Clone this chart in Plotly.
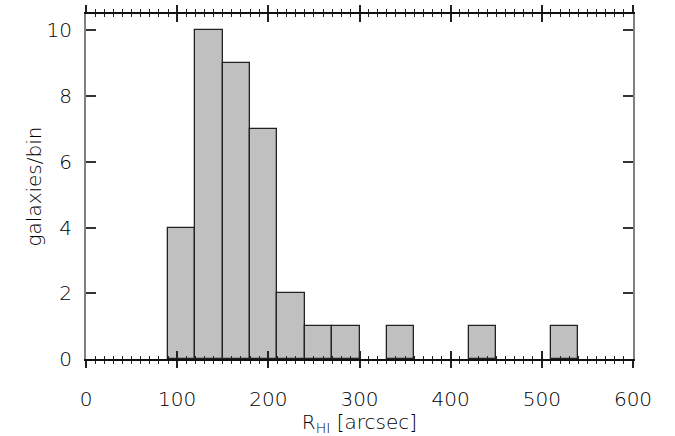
import plotly.graph_objects as go

# Data
bin_left = [90, 120, 150, 180, 210, 240, 270, 330, 420, 510]
counts = [4, 10, 9, 7, 2, 1, 1, 1, 1, 1]
bin_width = 30
x_ticks = [0, 100, 200, 300, 400, 500, 600]
y_ticks = [0, 2, 4, 6, 8, 10]

centers = [b + bin_width / 2 for b in bin_left]

FONT = "DejaVu Sans"

fig = go.Figure()
fig.add_trace(go.Bar(
    x=centers, y=counts, width=bin_width,
    marker=dict(color="#c0c0c0", line=dict(color="#222222", width=1.3)),
    xaxis="x", yaxis="y", showlegend=False, hoverinfo="skip",
))
# invisible trace for overlay axis (inward ticks)
fig.add_trace(go.Scatter(x=[0, 600], y=[0, 0], mode="markers",
                         marker=dict(opacity=0), xaxis="x2", yaxis="y",
                         showlegend=False, hoverinfo="skip"))

fig.update_layout(
    width=675, height=436,
    margin=dict(l=86, r=42, t=14, b=77),
    paper_bgcolor="white", plot_bgcolor="white",
    font=dict(family=FONT, size=20, color="#000000", weight=200),
    bargap=0,
    xaxis=dict(
        range=[0, 600], tickvals=x_ticks, ticks="outside", ticklen=7,
        tickwidth=1.5, tickcolor="#222222", automargin=False,
        minor=dict(dtick=10, tick0=0, ticks="outside", ticklen=3,
                   tickwidth=1.2, tickcolor="#222222"),
        showline=True, linecolor="#111111", linewidth=2, mirror="allticks",
        showgrid=False, zeroline=False,
        ticklabelstandoff=14,
        tickfont=dict(color="#000000", size=20, weight=200),
        title=dict(text="R<sub>HI</sub> [arcsec]", standoff=4,
                   font=dict(size=20, weight=200, color="#000000")),
    ),
    xaxis2=dict(
        range=[0, 600], overlaying="x", side="bottom", tickvals=x_ticks,
        ticks="inside", ticklen=8, tickwidth=1.5, tickcolor="#222222",
        minor=dict(dtick=10, tick0=0, ticks="inside", ticklen=3,
                   tickwidth=1.2, tickcolor="#222222"),
        showline=False, mirror="allticks", showticklabels=False,
        showgrid=False, zeroline=False, automargin=False,
    ),
    yaxis=dict(
        range=[0, 10.5], tickvals=y_ticks, ticks="inside", ticklen=10,
        tickwidth=1.5, tickcolor="#333333", automargin=False,
        showline=True, linecolor="#808080", linewidth=2, mirror="ticks",
        showgrid=False, zeroline=False, ticklabelstandoff=8,
        tickfont=dict(color="#000000", size=20, weight=200),
        title=dict(text="galaxies/bin", standoff=0,
                   font=dict(size=20, weight=200, color="#000000")),
    ),
)

fig.write_html("out.html")
